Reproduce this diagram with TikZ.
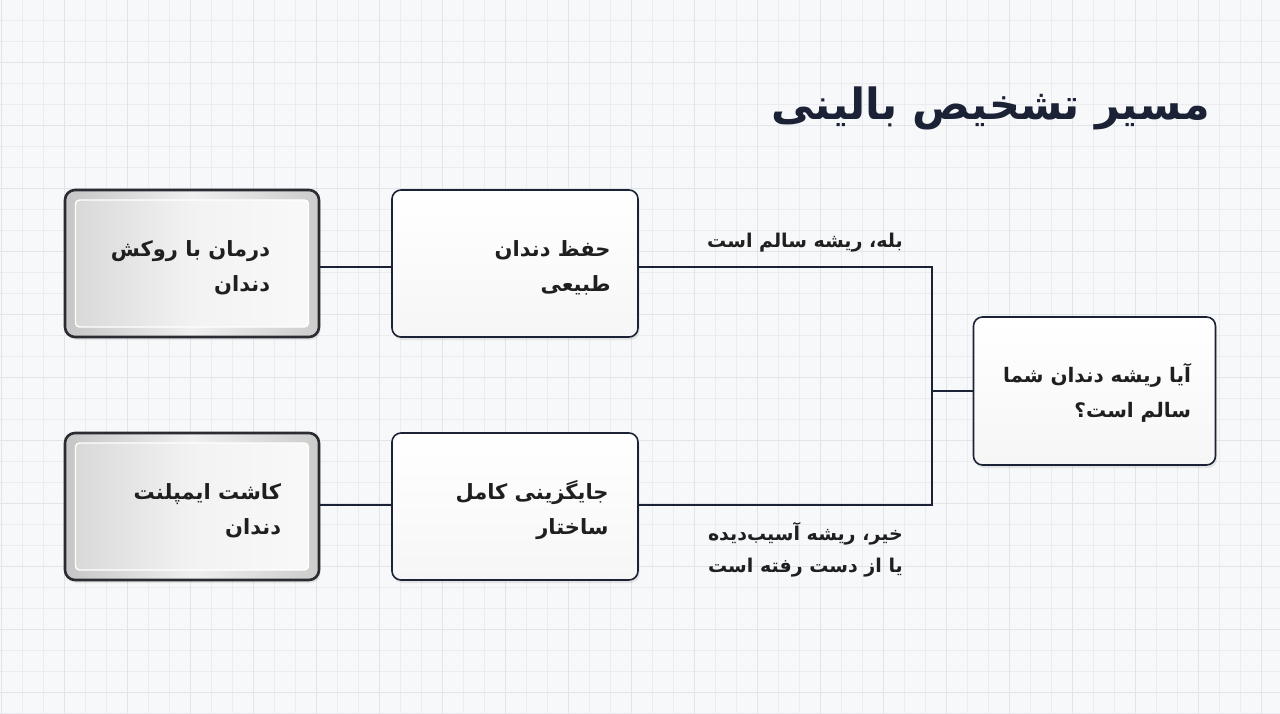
\documentclass[tikz,border=0pt]{standalone}
\usepackage{fontspec}
\TeXXeTstate=1
\newfontfamily\fa[Script=Arabic]{DejaVu Sans}
\usetikzlibrary{shadows}
\definecolor{navy}{HTML}{1B2236}
\definecolor{bgc}{HTML}{F7F8FA}
\definecolor{gridc}{HTML}{EAECF0}
\definecolor{gridm}{HTML}{E1E4E9}
\definecolor{rim}{HTML}{2A2C31}
\begin{document}
\begin{tikzpicture}[x=1pt,y=-1pt,
  wbox/.style={draw=navy, line width=1.6pt, rounded corners=9pt,
    top color=white, bottom color=gray!7, minimum width=246pt, minimum height=147pt,
    drop shadow={opacity=0.16, shadow xshift=1.5pt, shadow yshift=-3pt}},
  sout/.style={draw=rim, line width=2.6pt, rounded corners=10pt,
    left color=gray!45, right color=gray!40, middle color=gray!12,
    minimum width=254pt, minimum height=147pt,
    drop shadow={opacity=0.16, shadow xshift=1.5pt, shadow yshift=-3pt}},
  sin/.style={draw=white, line width=1.4pt, rounded corners=4pt,
    left color=gray!30, right color=gray!5, middle color=gray!10,
    minimum width=233pt, minimum height=127pt},
  txt/.style={font=\fa\bfseries\fontsize{21}{35}\selectfont, text=black!88, align=right, inner sep=0pt},
  lbl/.style={font=\fa\bfseries\fontsize{19}{32}\selectfont, text=black!88, align=right, inner sep=0pt},
  conn/.style={draw=navy, line width=2.2pt}
]
\useasboundingbox (0,0) rectangle (1280,714);
\fill[bgc] (0,0) rectangle (1280,714);
\foreach \i in {0,...,61} {
  \pgfmathsetmacro{\xx}{\i*21+1}
  \draw[gridc, line width=0.6pt] (\xx,0) -- (\xx,714);
}
\foreach \j in {0,...,34} {
  \pgfmathsetmacro{\yy}{\j*21-1}
  \draw[gridc, line width=0.6pt] (0,\yy) -- (1280,\yy);
}
\foreach \i in {0,...,20} {
  \pgfmathsetmacro{\xx}{\i*63+1}
  \draw[gridm, line width=0.8pt] (\xx,0) -- (\xx,714);
}
\foreach \j in {0,...,11} {
  \pgfmathsetmacro{\yy}{\j*63-1}
  \draw[gridm, line width=0.8pt] (0,\yy) -- (1280,\yy);
}

% title
\node[anchor=east, font=\fa\bfseries\fontsize{43}{50}\selectfont, text=navy, inner sep=0pt] (title) at (1210,108) {\beginR مسیر تشخیص بالینی\endR};

% boxes
\node[sout] (A) at (192,263.5) {};
\node[sin] (Ai) at (A.center) {};
\node[txt, anchor=east] (At) at ([xshift=-50pt,yshift=-4pt]A.east) {\beginR درمان با روکش\endR\\\beginR دندان\endR};

\node[wbox] (B) at (515,263.5) {};
\node[txt, anchor=east] (Bt) at ([xshift=-28pt,yshift=-4pt]B.east) {\beginR حفظ دندان\endR\\\beginR طبیعی\endR};

\node[wbox] (C) at (515,506.5) {};
\node[txt, anchor=east] (Ct) at ([xshift=-30pt,yshift=-4pt]C.east) {\beginR جایگزینی کامل\endR\\\beginR ساختار\endR};

\node[sout] (D) at (192,506.5) {};
\node[sin] (Di) at (D.center) {};
\node[txt, anchor=east] (Dt) at ([xshift=-39pt,yshift=-4pt]D.east) {\beginR کاشت ایمپلنت\endR\\\beginR دندان\endR};

\node[wbox, minimum width=242pt, minimum height=148pt] (E) at (1094.5,391) {};
\node[txt, anchor=east, font=\fa\bfseries\fontsize{20}{35}\selectfont] (Et) at ([xshift=-25pt,yshift=-2pt]E.east) {\beginR آیا ریشه دندان شما\endR\\\beginR سالم است؟\endR};

% connectors
\coordinate (jt) at (932,267);
\coordinate (jb) at (932,505);
\coordinate (jm) at (932,391);
\draw[conn] (A.east |- jt) -- (B.west |- jt);
\draw[conn] (D.east |- jb) -- (C.west |- jb);
\draw[conn] (B.east |- jt) -- (jt) -- (jb) -- (C.east |- jb);
\draw[conn] (E.west) -- (jm);

% labels
\node[lbl, anchor=east] (yes) at (903,243) {\beginR بله، ریشه سالم است\endR};
\node[lbl, anchor=north east] (no) at (903,522) {\beginR خیر، ریشه آسیب‌دیده\endR\\\beginR یا از دست رفته است\endR};
\end{tikzpicture}
\end{document}
